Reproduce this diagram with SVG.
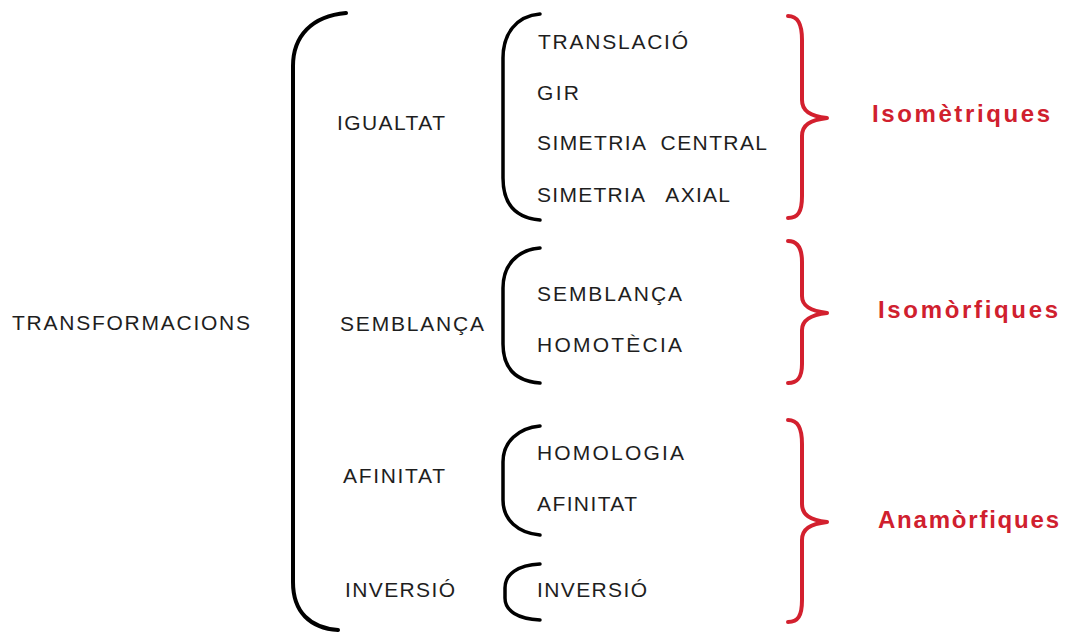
<svg xmlns="http://www.w3.org/2000/svg" width="1077" height="632" viewBox="0 0 1077 632">
<style>
.t{font-family:"Liberation Sans",Arial,sans-serif;font-size:21px;fill:#1e1e1e;}
.p{white-space:pre;}
.r{font-family:"Liberation Sans",Arial,sans-serif;font-size:24px;font-weight:bold;fill:#d0202e;}
.bk{fill:none;stroke:#000;stroke-width:4;stroke-linecap:round;}
.bs{fill:none;stroke:#000;stroke-width:3.5;stroke-linecap:round;}
.br{fill:none;stroke:#d3202e;stroke-width:4;stroke-linecap:round;stroke-linejoin:round;}
</style>
<rect width="1077" height="632" fill="#fff"/>
<g id="connectors">
<path class="bk" d="M346 13 C312 16 293 36 293 66 L293 582 C293 612 310 628 338 630"/>
<path class="bs" d="M540 14 C516 16 503 34 503 58 L503 178 C503 204 516 218 540 220"/>
<path class="bs" d="M540 248 C516 250 503 266 503 288 L503 344 C503 368 516 381 540 383"/>
<path class="bs" d="M540 426 C518 428 503 442 503 462 L503 500 C503 520 518 533 540 535"/>
<path class="bs" d="M540 564 C518 565 505 574 505 588 L505 598 C505 611 518 619 540 620"/>
<path class="br" d="M788 16 C798 16 802 24 802 40 L802 100 C802 111 810 116 827 118 C810 120 802 125 802 136 L802 196 C802 212 798 218 788 218"/>
<path class="br" d="M788 241 C798 241 802 249 802 262 L802 296 C802 306 810 311 827 313 C810 315 802 320 802 330 L802 364 C802 377 798 383 788 383"/>
<path class="br" d="M788 420 C798 420 802 428 802 444 L802 504 C802 515 810 520 827 522 C810 524 802 529 802 540 L802 600 C802 616 798 622 788 622"/>
</g>
<g id="n-transformacions"><text class="t" x="12" y="330" textLength="238" lengthAdjust="spacing">TRANSFORMACIONS</text></g>
<g id="n-igualtat"><text class="t" x="337" y="130" textLength="108" lengthAdjust="spacing">IGUALTAT</text></g>
<g id="n-semblanca"><text class="t" x="340" y="331" textLength="144" lengthAdjust="spacing">SEMBLANÇA</text></g>
<g id="n-afinitat"><text class="t" x="343" y="483" textLength="102" lengthAdjust="spacing">AFINITAT</text></g>
<g id="n-inversio"><text class="t" x="345" y="597" textLength="110" lengthAdjust="spacing">INVERSIÓ</text></g>
<g id="n-translacio"><text class="t" x="538" y="49" textLength="150" lengthAdjust="spacing">TRANSLACIÓ</text></g>
<g id="n-gir"><text class="t" x="537" y="100" textLength="42" lengthAdjust="spacing">GIR</text></g>
<g id="n-sim-central"><text class="t p" x="537" y="150" textLength="230" lengthAdjust="spacing" xml:space="preserve">SIMETRIA  CENTRAL</text></g>
<g id="n-sim-axial"><text class="t p" x="537" y="202" textLength="193" lengthAdjust="spacing" xml:space="preserve">SIMETRIA   AXIAL</text></g>
<g id="n-semblanca2"><text class="t" x="537" y="301" textLength="145" lengthAdjust="spacing">SEMBLANÇA</text></g>
<g id="n-homotecia"><text class="t" x="537" y="352" textLength="145" lengthAdjust="spacing">HOMOTÈCIA</text></g>
<g id="n-homologia"><text class="t" x="537" y="460" textLength="147" lengthAdjust="spacing">HOMOLOGIA</text></g>
<g id="n-afinitat2"><text class="t" x="537" y="511" textLength="100" lengthAdjust="spacing">AFINITAT</text></g>
<g id="n-inversio2"><text class="t" x="537" y="597" textLength="110" lengthAdjust="spacing">INVERSIÓ</text></g>
<g id="n-isometriques"><text class="r" x="872" y="122" textLength="178" lengthAdjust="spacing">Isomètriques</text></g>
<g id="n-isomorfiques"><text class="r" x="878" y="318" textLength="180" lengthAdjust="spacing">Isomòrfiques</text></g>
<g id="n-anamorfiques"><text class="r" x="878" y="528" textLength="181" lengthAdjust="spacing">Anamòrfiques</text></g>
</svg>
